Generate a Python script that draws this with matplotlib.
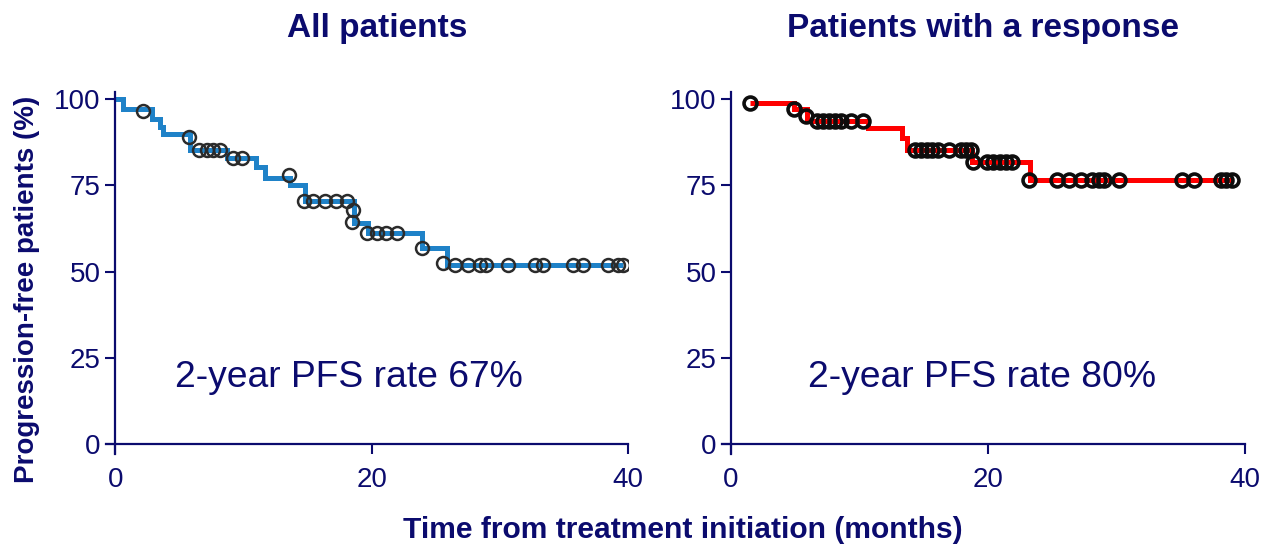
import numpy as np
import matplotlib
matplotlib.use("Agg")
import matplotlib.pyplot as plt

plt.rcParams['font.family'] = ['Liberation Sans', 'DejaVu Sans']

# Kaplan-Meier curves (months, % progression-free)
all_step_times = [0, 0.58, 2.83, 3.49, 3.75, 5.8, 8.68, 11.0, 11.68, 13.6, 14.8, 18.6, 19.7, 23.9, 25.85]
all_step_levels = [100, 97.0, 94.1, 91.8, 90.0, 85.2, 82.8, 80.4, 77.2, 75.1, 70.4, 64.0, 61.3, 56.7, 51.8]
all_end_time = 39.62
all_cens_times = [2.2, 5.75, 6.55, 7.13, 7.65, 8.17, 9.16, 9.9, 13.55, 14.76, 15.44, 16.36,
                  17.22, 18.05, 18.57, 18.5, 19.6, 20.4, 21.1, 22.0, 23.9, 25.6,
                  26.5, 27.53, 28.45, 28.9, 30.66, 32.74, 33.34, 35.73, 36.46, 38.41, 39.23, 39.62]
all_cens_levels = [96.5, 88.9, 85.2, 85.2, 85.2, 85.2, 82.8, 82.8, 78.0, 70.4, 70.4, 70.4,
                   70.4, 70.4, 67.7, 64.4, 61.3, 61.3, 61.3, 61.3, 56.7, 52.5,
                   51.8, 51.8, 51.8, 51.8, 51.8, 51.8, 51.8, 51.8, 51.8, 51.8, 51.8, 51.8]

resp_step_times = [1.48, 4.9, 5.9, 10.68, 13.3, 13.7, 18.75, 23.27]
resp_step_levels = [98.8, 97.1, 93.6, 91.7, 88.8, 85.2, 81.6, 76.5]
resp_end_time = 38.96
resp_cens_times = [1.48, 4.93, 5.84, 6.67, 7.13, 7.6, 8.07, 8.54, 9.37, 10.27,
                   14.3, 14.75, 15.22, 15.68, 16.1, 16.98, 17.9, 18.3, 18.7, 18.8,
                   19.9, 20.4, 20.9, 21.4, 21.85, 23.2, 25.4, 26.3, 27.2, 28.1, 28.6,
                   29.0, 30.2, 35.1, 36.0, 38.1, 38.5, 38.96]
resp_cens_levels = [98.8, 97.1, 95.2, 93.6, 93.6, 93.6, 93.6, 93.6, 93.6, 93.6,
                    85.2, 85.2, 85.2, 85.2, 85.2, 85.2, 85.2, 85.2, 85.2, 81.6,
                    81.6, 81.6, 81.6, 81.6, 81.6, 76.5, 76.5, 76.5, 76.5, 76.5, 76.5,
                    76.5, 76.5, 76.5, 76.5, 76.5, 76.5, 76.5]

titles = ['All patients', 'Patients with a response']
notes = ['2-year PFS rate 67%', '2-year PFS rate 80%']
x_ticks = [0, 20, 40]
y_ticks = [0, 25, 50, 75, 100]

NAVY = '#0b0b6e'

fig = plt.figure(figsize=(12.81, 5.5), dpi=100)
ax1 = fig.add_axes([106.3 / 1281, 95.6 / 550, 521.7 / 1281, 362.3 / 550])
ax2 = fig.add_axes([722 / 1281, 95.6 / 550, 523 / 1281, 362.3 / 550])


def draw_km(ax, t, s, t_end, ct, cl, color, mec, mew):
    t = list(t) + [t_end]
    s = list(s) + [s[-1]]
    ax.step(t, s, where='post', color=color, lw=3.6, solid_joinstyle='miter',
            solid_capstyle='butt', zorder=2)
    ax.plot(ct, cl, 'o', mfc='none', mec=mec, ms=9.3, mew=mew, zorder=3)


draw_km(ax1, all_step_times, all_step_levels, all_end_time,
        all_cens_times, all_cens_levels, '#1f82c8', '#2b2b2b', 1.8)
draw_km(ax2, resp_step_times, resp_step_levels, resp_end_time,
        resp_cens_times, resp_cens_levels, '#ff0000', '#0d0d0d', 2.6)

for ax, title, note in zip([ax1, ax2], titles, notes):
    ax.set_xlim(-0.7, 40)
    ax.set_ylim(-3, 102)
    ax.spines['top'].set_visible(False)
    ax.spines['right'].set_visible(False)
    ax.spines['left'].set_position(('data', 0))
    ax.spines['bottom'].set_position(('data', 0))
    for side in ['left', 'bottom']:
        ax.spines[side].set_color(NAVY)
        ax.spines[side].set_linewidth(1.6)
    ax.set_xticks(x_ticks)
    ax.set_yticks(y_ticks)
    ax.tick_params(axis='both', colors=NAVY, labelcolor=NAVY, labelsize=20,
                   length=7.5, width=1.5, direction='out')
    ax.tick_params(axis='x', pad=9)
    ax.tick_params(axis='y', pad=3)
    ax.patch.set_visible(False)
    ax.text(4.66 if ax is ax1 else 6.0, 16.4, note, fontsize=26.8, color=NAVY,
            ha='left', va='baseline')

fig.text(377 / 1281, 1 - 36.7 / 550, titles[0], fontsize=24, fontweight='bold',
         color=NAVY, ha='center', va='baseline')
fig.text(983 / 1281, 1 - 36.7 / 550, titles[1], fontsize=24, fontweight='bold',
         color=NAVY, ha='center', va='baseline')
fig.text(27 / 1281, 1 - 289.5 / 550, 'Progression-free patients (%)', fontsize=20,
         fontweight='bold', color=NAVY, rotation=90, ha='center', va='center')
fig.text(683 / 1281, 1 - 530 / 550, 'Time from treatment initiation (months)',
         fontsize=21.6, fontweight='bold', color=NAVY, ha='center', va='center')

fig.savefig('out.png', dpi=100)
